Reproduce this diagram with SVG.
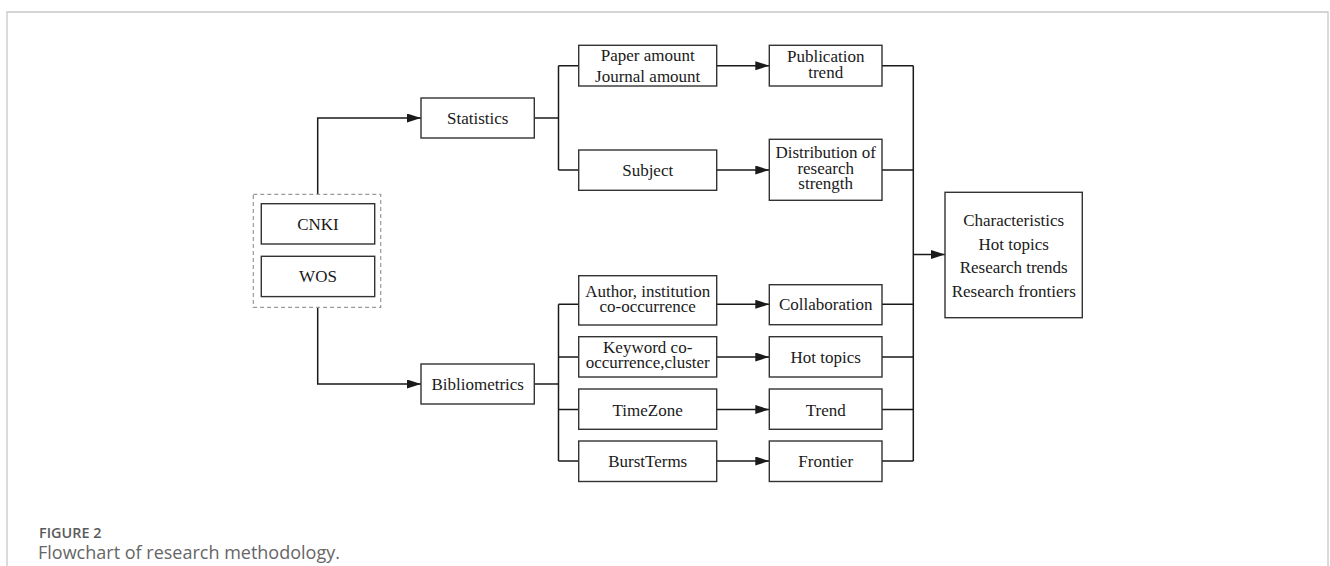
<svg xmlns="http://www.w3.org/2000/svg" width="1330" height="566" viewBox="0 0 1330 566">
<defs>
<marker id="arr" markerUnits="userSpaceOnUse" markerWidth="15" markerHeight="10" refX="14" refY="4.5" orient="auto">
<path d="M0,0 L14,4.5 L0,9 Z" fill="#1a1a1a"/>
</marker>
<linearGradient id="topg" x1="0" y1="0" x2="1" y2="0">
<stop offset="0" stop-color="#bdbdbd"/><stop offset="1" stop-color="#d0d0d0"/>
</linearGradient>
</defs>
<style>
.box{fill:#fff;stroke:#333;stroke-width:1.4}
.dash{fill:none;stroke:#9a9a9a;stroke-width:1.2;stroke-dasharray:4 3}
.t{font-family:"Liberation Serif","Times New Roman",serif;font-size:17px;fill:#1a1a1a;text-anchor:middle}
.ln{fill:none;stroke:#1a1a1a;stroke-width:1.5}
.ar{fill:none;stroke:#1a1a1a;stroke-width:1.5;marker-end:url(#arr)}
.cap1{font-family:"Open Sans","Noto Sans",sans-serif;font-size:14.4px;font-weight:600;fill:#5a5a5a}
.cap2{font-family:"Open Sans","Noto Sans",sans-serif;font-size:18px;fill:#666}
</style>
<rect width="1330" height="566" fill="#fff"/>
<g id="frame">
<path d="M7,566 V12 H1328 V566" fill="none" stroke="#c8c8c8" stroke-width="1.3"/>
<line x1="7" y1="12" x2="1328" y2="12" stroke="url(#topg)" stroke-width="1.5"/>
</g>
<g id="connectors">
<path class="ar" d="M317.7,194.3 V118 H421"/>
<path class="ar" d="M317.7,307.3 V384 H421"/>
<path class="ln" d="M534.3,118 H558.5"/>
<path class="ln" d="M558.5,65.7 V170"/>
<path class="ln" d="M558.5,65.7 H578.7 M558.5,170 H578.7"/>
<path class="ar" d="M716.7,65.7 H769.3"/>
<path class="ar" d="M716.7,170 H769.3"/>
<path class="ln" d="M534.3,384 H558.5"/>
<path class="ln" d="M558.5,304.3 V461"/>
<path class="ln" d="M558.5,304.3 H578.7 M558.5,357 H578.7 M558.5,409.5 H578.7 M558.5,461 H578.7"/>
<path class="ar" d="M716.7,304.3 H769.3"/>
<path class="ar" d="M716.7,357 H769.3"/>
<path class="ar" d="M716.7,409.5 H769.3"/>
<path class="ar" d="M716.7,461 H769.3"/>
<path class="ln" d="M882,65.7 H913.3 M882,170 H913.3 M882,304.3 H913.3 M882,357 H913.3 M882,409.5 H913.3 M882,461 H913.3"/>
<path class="ln" d="M913.3,65.7 V461"/>
<path class="ar" d="M913.3,254.5 H945"/>
</g>
<g id="sources">
<rect class="dash" x="253.3" y="194.3" width="127.4" height="113"/>
</g>
<g id="cnki"><rect class="box" x="261.3" y="203.7" width="113.4" height="40.3"/><text class="t" x="318" y="229.5">CNKI</text></g>
<g id="wos"><rect class="box" x="261.3" y="256.3" width="113.4" height="40.3"/><text class="t" x="318" y="282">WOS</text></g>
<g id="statistics"><rect class="box" x="421" y="98" width="113.3" height="40"/><text class="t" x="477.7" y="124">Statistics</text></g>
<g id="bibliometrics"><rect class="box" x="421" y="364" width="113.3" height="40"/><text class="t" x="477.7" y="390">Bibliometrics</text></g>
<g id="paper"><rect class="box" x="578.7" y="45.3" width="138" height="40.7"/><text class="t" x="647.7" y="61">Paper amount</text><text class="t" x="647.7" y="81.5">Journal amount</text></g>
<g id="publication"><rect class="box" x="769.3" y="45.3" width="112.7" height="40.7"/><text class="t" x="825.7" y="62">Publication</text><text class="t" x="825.7" y="77.5">trend</text></g>
<g id="subject"><rect class="box" x="578.7" y="150" width="138" height="40.3"/><text class="t" x="647.7" y="176">Subject</text></g>
<g id="distribution"><rect class="box" x="769.3" y="139.3" width="112.7" height="61"/><text class="t" x="825.7" y="158">Distribution of</text><text class="t" x="825.7" y="173.5">research</text><text class="t" x="825.7" y="189">strength</text></g>
<g id="author"><rect class="box" x="578.7" y="275.7" width="138" height="49.3"/><text class="t" x="647.7" y="296.5">Author, institution</text><text class="t" x="647.7" y="312">co-occurrence</text></g>
<g id="collaboration"><rect class="box" x="769.3" y="284.7" width="112.7" height="40"/><text class="t" x="825.7" y="310">Collaboration</text></g>
<g id="keyword"><rect class="box" x="578.7" y="336.7" width="138" height="40.3"/><text class="t" x="647.7" y="352.5">Keyword co-</text><text class="t" x="647.7" y="368">occurrence,cluster</text></g>
<g id="hottopics"><rect class="box" x="769.3" y="336.7" width="112.7" height="40.3"/><text class="t" x="825.7" y="363">Hot topics</text></g>
<g id="timezone"><rect class="box" x="578.7" y="389" width="138" height="40.3"/><text class="t" x="647.7" y="415.5">TimeZone</text></g>
<g id="trend"><rect class="box" x="769.3" y="389" width="112.7" height="40.3"/><text class="t" x="825.7" y="415.5">Trend</text></g>
<g id="burstterms"><rect class="box" x="578.7" y="441" width="138" height="40.5"/><text class="t" x="647.7" y="467">BurstTerms</text></g>
<g id="frontier"><rect class="box" x="769.3" y="441" width="112.7" height="40.5"/><text class="t" x="825.7" y="467">Frontier</text></g>
<g id="result"><rect class="box" x="945" y="192.3" width="137.3" height="125.4"/>
<text class="t" x="1013.7" y="225.7">Characteristics</text>
<text class="t" x="1013.7" y="249.5">Hot topics</text>
<text class="t" x="1013.7" y="273.3">Research trends</text>
<text class="t" x="1013.7" y="297">Research frontiers</text></g>
<g id="caption">
<text class="cap1" x="39" y="538">FIGURE 2</text>
<text class="cap2" x="38" y="559">Flowchart of research methodology.</text>
</g>
</svg>
